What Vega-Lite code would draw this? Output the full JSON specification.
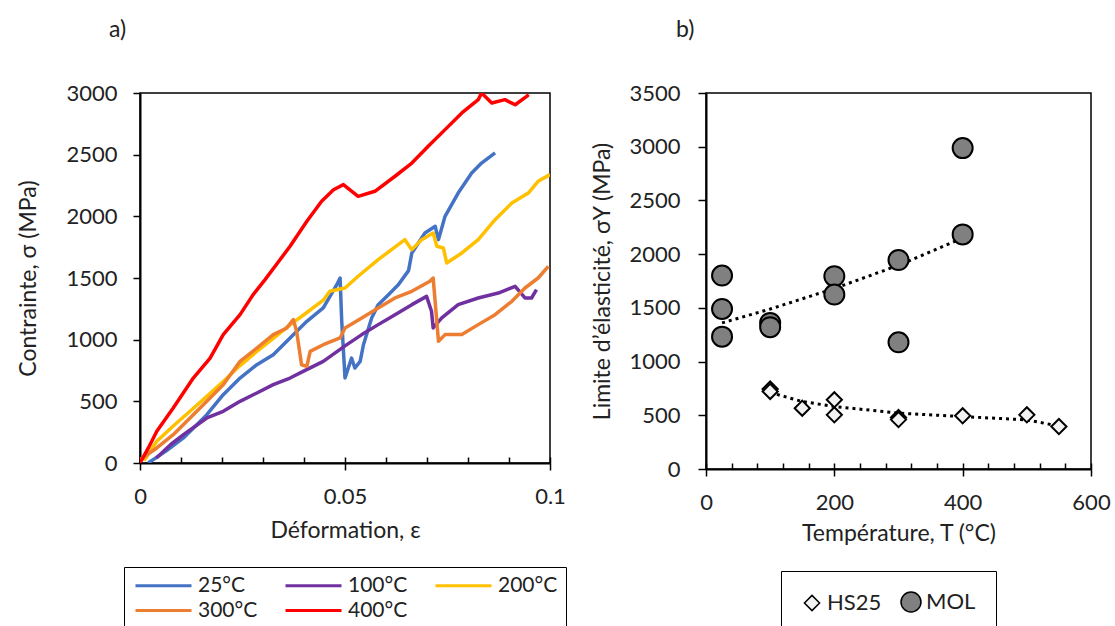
{
  "$schema": "https://vega.github.io/schema/vega-lite/v6.json",
  "padding": {"left": 17, "top": 18, "right": 5, "bottom": 0},
  "background": "white",
  "bounds": "flush",
  "spacing": 156,
  "config": {
    "font": "Lato",
    "view": {"stroke": "black", "strokeWidth": 1.5},
    "axis": {
      "grid": false, "domainColor": "black", "domainWidth": 2,
      "tickColor": "black", "tickWidth": 1.5, "labelFlush": false,
      "labelFont": "Lato", "labelFontSize": 22, "labelColor": "#222",
      "titleFont": "Lato", "titleFontSize": 23, "titleFontWeight": "normal", "titleColor": "#222"
    },
    "legend": {"labelFont": "Lato", "labelFontSize": 22, "labelColor": "#222"},
    "title": {"font": "Lato", "fontSize": 23, "fontWeight": "normal", "color": "#222"}
  },
  "datasets": {
    "curves": [
      {"c":"25°C","e":0.002,"s":0},{"c":"25°C","e":0.0065,"s":100},{"c":"25°C","e":0.0106,"s":203},{"c":"25°C","e":0.0163,"s":392},{"c":"25°C","e":0.0203,"s":554},{"c":"25°C","e":0.0244,"s":689},{"c":"25°C","e":0.0285,"s":797},{"c":"25°C","e":0.0325,"s":878},{"c":"25°C","e":0.0366,"s":1014},{"c":"25°C","e":0.0407,"s":1149},{"c":"25°C","e":0.0447,"s":1257},{"c":"25°C","e":0.048,"s":1446},{"c":"25°C","e":0.0488,"s":1500},{"c":"25°C","e":0.0492,"s":1151},{"c":"25°C","e":0.05,"s":689},{"c":"25°C","e":0.0516,"s":851},{"c":"25°C","e":0.0524,"s":770},{"c":"25°C","e":0.0537,"s":824},{"c":"25°C","e":0.0545,"s":959},{"c":"25°C","e":0.0565,"s":1176},{"c":"25°C","e":0.0581,"s":1284},{"c":"25°C","e":0.0606,"s":1365},{"c":"25°C","e":0.063,"s":1446},{"c":"25°C","e":0.0655,"s":1560},{"c":"25°C","e":0.0663,"s":1703},{"c":"25°C","e":0.0695,"s":1865},{"c":"25°C","e":0.072,"s":1919},{"c":"25°C","e":0.0728,"s":1811},{"c":"25°C","e":0.0744,"s":2000},{"c":"25°C","e":0.0776,"s":2189},{"c":"25°C","e":0.0809,"s":2351},{"c":"25°C","e":0.0833,"s":2432},{"c":"25°C","e":0.0866,"s":2514},
      {"c":"100°C","e":0.004,"s":40},{"c":"100°C","e":0.0075,"s":150},{"c":"100°C","e":0.0106,"s":230},{"c":"100°C","e":0.0163,"s":365},{"c":"100°C","e":0.0203,"s":419},{"c":"100°C","e":0.0244,"s":500},{"c":"100°C","e":0.0285,"s":568},{"c":"100°C","e":0.0325,"s":635},{"c":"100°C","e":0.0366,"s":689},{"c":"100°C","e":0.0398,"s":743},{"c":"100°C","e":0.0447,"s":824},{"c":"100°C","e":0.05,"s":950},{"c":"100°C","e":0.0541,"s":1041},{"c":"100°C","e":0.0581,"s":1122},{"c":"100°C","e":0.0622,"s":1203},{"c":"100°C","e":0.0663,"s":1284},{"c":"100°C","e":0.0699,"s":1351},{"c":"100°C","e":0.0711,"s":1230},{"c":"100°C","e":0.0715,"s":1095},{"c":"100°C","e":0.0736,"s":1176},{"c":"100°C","e":0.0776,"s":1284},{"c":"100°C","e":0.0825,"s":1338},{"c":"100°C","e":0.0874,"s":1378},{"c":"100°C","e":0.0915,"s":1432},{"c":"100°C","e":0.0939,"s":1338},{"c":"100°C","e":0.0955,"s":1338},{"c":"100°C","e":0.0967,"s":1405},
      {"c":"200°C","e":0.001,"s":20},{"c":"200°C","e":0.0041,"s":176},{"c":"200°C","e":0.0081,"s":300},{"c":"200°C","e":0.0122,"s":420},{"c":"200°C","e":0.0163,"s":540},{"c":"200°C","e":0.0203,"s":660},{"c":"200°C","e":0.0244,"s":790},{"c":"200°C","e":0.0285,"s":905},{"c":"200°C","e":0.0325,"s":1010},{"c":"200°C","e":0.0366,"s":1120},{"c":"200°C","e":0.0407,"s":1220},{"c":"200°C","e":0.0447,"s":1320},{"c":"200°C","e":0.0463,"s":1392},{"c":"200°C","e":0.05,"s":1419},{"c":"200°C","e":0.0532,"s":1514},{"c":"200°C","e":0.0581,"s":1649},{"c":"200°C","e":0.0646,"s":1811},{"c":"200°C","e":0.0663,"s":1730},{"c":"200°C","e":0.0687,"s":1811},{"c":"200°C","e":0.0715,"s":1865},{"c":"200°C","e":0.0724,"s":1757},{"c":"200°C","e":0.074,"s":1743},{"c":"200°C","e":0.0748,"s":1622},{"c":"200°C","e":0.0785,"s":1703},{"c":"200°C","e":0.0825,"s":1811},{"c":"200°C","e":0.0866,"s":1973},{"c":"200°C","e":0.0907,"s":2108},{"c":"200°C","e":0.0947,"s":2189},{"c":"200°C","e":0.0971,"s":2284},{"c":"200°C","e":0.1,"s":2338},
      {"c":"300°C","e":0,"s":27},{"c":"300°C","e":0.0041,"s":122},{"c":"300°C","e":0.0081,"s":230},{"c":"300°C","e":0.0122,"s":365},{"c":"300°C","e":0.0163,"s":500},{"c":"300°C","e":0.0203,"s":635},{"c":"300°C","e":0.0244,"s":824},{"c":"300°C","e":0.0285,"s":932},{"c":"300°C","e":0.0325,"s":1041},{"c":"300°C","e":0.0358,"s":1095},{"c":"300°C","e":0.0374,"s":1162},{"c":"300°C","e":0.0382,"s":1068},{"c":"300°C","e":0.0394,"s":797},{"c":"300°C","e":0.0407,"s":784},{"c":"300°C","e":0.0415,"s":905},{"c":"300°C","e":0.0447,"s":959},{"c":"300°C","e":0.0488,"s":1014},{"c":"300°C","e":0.05,"s":1095},{"c":"300°C","e":0.0541,"s":1176},{"c":"300°C","e":0.0581,"s":1257},{"c":"300°C","e":0.0622,"s":1338},{"c":"300°C","e":0.0663,"s":1392},{"c":"300°C","e":0.0707,"s":1473},{"c":"300°C","e":0.0715,"s":1500},{"c":"300°C","e":0.0728,"s":987},{"c":"300°C","e":0.0744,"s":1041},{"c":"300°C","e":0.0785,"s":1041},{"c":"300°C","e":0.0825,"s":1122},{"c":"300°C","e":0.0866,"s":1203},{"c":"300°C","e":0.0907,"s":1311},{"c":"300°C","e":0.0939,"s":1419},{"c":"300°C","e":0.0971,"s":1500},{"c":"300°C","e":0.0996,"s":1595},
      {"c":"400°C","e":0,"s":0},{"c":"400°C","e":0.002,"s":120},{"c":"400°C","e":0.0041,"s":257},{"c":"400°C","e":0.0081,"s":446},{"c":"400°C","e":0.013,"s":689},{"c":"400°C","e":0.0171,"s":851},{"c":"400°C","e":0.0203,"s":1041},{"c":"400°C","e":0.0244,"s":1203},{"c":"400°C","e":0.0276,"s":1365},{"c":"400°C","e":0.0305,"s":1487},{"c":"400°C","e":0.0335,"s":1620},{"c":"400°C","e":0.0366,"s":1757},{"c":"400°C","e":0.0407,"s":1960},{"c":"400°C","e":0.0443,"s":2122},{"c":"400°C","e":0.0472,"s":2216},{"c":"400°C","e":0.0496,"s":2257},{"c":"400°C","e":0.0532,"s":2162},{"c":"400°C","e":0.0573,"s":2203},{"c":"400°C","e":0.0622,"s":2325},{"c":"400°C","e":0.0663,"s":2432},{"c":"400°C","e":0.0703,"s":2568},{"c":"400°C","e":0.0744,"s":2703},{"c":"400°C","e":0.0785,"s":2838},{"c":"400°C","e":0.0825,"s":2946},{"c":"400°C","e":0.0833,"s":3000},{"c":"400°C","e":0.0858,"s":2919},{"c":"400°C","e":0.089,"s":2946},{"c":"400°C","e":0.0915,"s":2905},{"c":"400°C","e":0.0943,"s":2973},{"c":"400°C","e":0.0948,"s":2986}
    ],
    "points": [
      {"g":"MOL","T":25,"v":1801},{"g":"MOL","T":25,"v":1490},{"g":"MOL","T":25,"v":1232},{"g":"MOL","T":100,"v":1360},{"g":"MOL","T":100,"v":1320},{"g":"MOL","T":200,"v":1795},{"g":"MOL","T":200,"v":1624},{"g":"MOL","T":300,"v":1945},{"g":"MOL","T":300,"v":1179},{"g":"MOL","T":400,"v":2987},{"g":"MOL","T":400,"v":2184},
      {"g":"HS25","T":100,"v":744},{"g":"HS25","T":100,"v":722},{"g":"HS25","T":150,"v":566},{"g":"HS25","T":200,"v":644},{"g":"HS25","T":200,"v":504},{"g":"HS25","T":300,"v":479},{"g":"HS25","T":300,"v":460},{"g":"HS25","T":400,"v":495},{"g":"HS25","T":500,"v":504},{"g":"HS25","T":550,"v":395}
    ],
    "trend": [
      {"g":"MOL","T":25,"v":1360},{"g":"MOL","T":100,"v":1489},{"g":"MOL","T":200,"v":1680},{"g":"MOL","T":300,"v":1896},{"g":"MOL","T":400,"v":2150},
      {"g":"HS25","T":100,"v":712},{"g":"HS25","T":150,"v":628},{"g":"HS25","T":200,"v":582},{"g":"HS25","T":300,"v":520},{"g":"HS25","T":400,"v":488},{"g":"HS25","T":500,"v":457},{"g":"HS25","T":550,"v":400}
    ]
  },
  "hconcat": [
    {
      "width": 410,
      "height": 370,
      "title": {"text": "a)", "anchor": "start", "frame": "group", "dx": -31, "offset": 40},
      "layer": [
        {
          "data": {"name": "curves"},
          "mark": {"type": "line", "strokeWidth": 3.5, "clip": true, "strokeJoin": "round"},
          "encoding": {
            "x": {"field": "e", "type": "quantitative", "scale": {"domain": [0, 0.1], "nice": false, "zero": false},
                  "axis": {"orient": "bottom", "values": [0,0.01,0.02,0.03,0.04,0.05,0.06,0.07,0.08,0.09,0.1], "tickSize": -6, "format": "~g",
                           "labelExpr": "(datum.value < 1e-9 || abs(datum.value-0.05) < 1e-9 || abs(datum.value-0.1) < 1e-9) ? datum.label : ''",
                           "labelPadding": 29, "title": "Déformation, ε", "titlePadding": 12}},
            "y": {"field": "s", "type": "quantitative", "scale": {"domain": [0, 3000], "nice": false},
                  "axis": {"values": [0,500,1000,1500,2000,2500,3000], "format": "d", "tickSize": 7, "labelPadding": 16, "title": "Contrainte, σ (MPa)", "titlePadding": 25}},
            "color": {"field": "c", "type": "nominal", "sort": ["25°C","100°C","200°C","300°C","400°C"],
                      "scale": {"domain": ["25°C","100°C","200°C","300°C","400°C"], "range": ["#4472C4","#7030A0","#FFC000","#ED7D31","#FF0000"]},
                      "legend": {"orient": "none", "legendX": -16, "legendY": 474, "columns": 3, "direction": "horizontal", "title": null,
                                 "symbolType": "M-1,0H7", "symbolSize": 196, "symbolStrokeWidth": 3, "labelFontSize": 21, "labelOffset": 45,
                                 "strokeColor": "black", "padding": 8, "columnPadding": 21, "rowPadding": 3}}
          }
        },
        {
          "data": {"name": "curves"},
          "mark": {"type": "point", "opacity": 0},
          "encoding": {
            "x": {"field": "e", "type": "quantitative",
                  "axis": {"orient": "bottom", "values": [0, 0.05, 0.1], "tickSize": 7, "labels": false, "domain": false, "title": null}}
          }
        }
      ],
      "resolve": {"axis": {"x": "independent"}}
    },
    {
      "width": 385,
      "height": 376,
      "title": {"text": "b)", "anchor": "start", "frame": "group", "dx": -30, "offset": 40},
      "layer": [
        {
          "data": {"name": "trend"},
          "mark": {"type": "line", "strokeWidth": 3, "strokeDash": [3, 4], "color": "black"},
          "encoding": {
            "x": {"field": "T", "type": "quantitative", "scale": {"domain": [0, 600], "nice": false},
                  "axis": {"orient": "bottom", "values": [0,40,80,120,160,200,240,280,320,360,400,440,480,520,560,600], "tickSize": -6,
                           "labelExpr": "datum.value % 200 == 0 ? datum.label : ''", "labelPadding": 29,
                           "title": "Température, T (°C)", "titlePadding": 9}},
            "y": {"field": "v", "type": "quantitative", "scale": {"domain": [0, 3500], "nice": false},
                  "axis": {"values": [0,500,1000,1500,2000,2500,3000,3500], "format": "d", "tickSize": 8, "labelPadding": 18, "title": "Limite d’élasticité, σY (MPa)", "titlePadding": 14}},
            "detail": {"field": "g", "type": "nominal"}
          }
        },
        {
          "data": {"name": "points"},
          "mark": {"type": "point", "filled": true, "stroke": "black", "strokeWidth": 2, "opacity": 1},
          "encoding": {
            "x": {"field": "T", "type": "quantitative", "axis": null},
            "y": {"field": "v", "type": "quantitative"},
            "shape": {"field": "g", "type": "nominal", "scale": {"domain": ["HS25","MOL"], "range": ["diamond","circle"]},
                      "legend": {"orient": "none", "legendX": 641, "legendY": 478, "direction": "horizontal", "title": null, "strokeColor": "black", "padding": 20, "columnPadding": 16, "labelFontSize": 22,
                                 "encode": {"symbols": {"update": {"stroke": {"value": "black"}, "strokeWidth": {"value": 2}}}}}},
            "fill": {"field": "g", "type": "nominal", "scale": {"domain": ["HS25","MOL"], "range": ["#F2F2F2","#808080"]},
                     "legend": {"orient": "none", "legendX": 641, "legendY": 478, "direction": "horizontal", "title": null, "strokeColor": "black", "padding": 20, "columnPadding": 16, "labelFontSize": 22,
                                "encode": {"symbols": {"update": {"stroke": {"value": "black"}, "strokeWidth": {"value": 2}}}}}},
            "size": {"field": "g", "type": "nominal", "scale": {"domain": ["HS25","MOL"], "range": [230, 400]},
                     "legend": {"orient": "none", "legendX": 641, "legendY": 478, "direction": "horizontal", "title": null, "strokeColor": "black", "padding": 20, "columnPadding": 16, "labelFontSize": 22,
                                "encode": {"symbols": {"update": {"stroke": {"value": "black"}, "strokeWidth": {"value": 2}}}}}}
          }
        },
        {
          "data": {"name": "points"},
          "mark": {"type": "point", "opacity": 0},
          "encoding": {
            "x": {"field": "T", "type": "quantitative",
                  "axis": {"orient": "bottom", "values": [0, 200, 400, 600], "tickSize": 7, "labels": false, "domain": false, "title": null}}
          }
        }
      ],
      "resolve": {"axis": {"x": "independent"}}
    }
  ]
}
